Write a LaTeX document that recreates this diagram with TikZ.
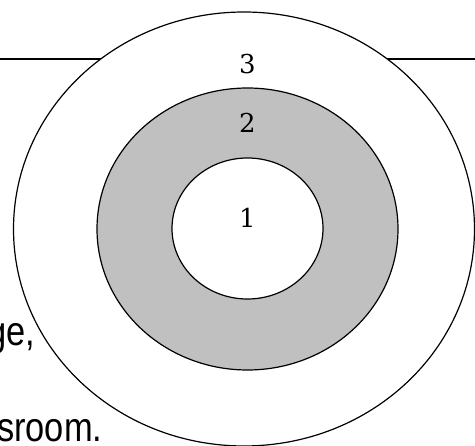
\documentclass[tikz,border=0pt]{standalone}
\usepackage{fontspec}
\setmainfont{DejaVu Serif}
\newfontfamily\bodysans[FakeStretch=0.84]{Liberation Sans}
\usepackage{xcolor}
\usepackage{tikz}
\usetikzlibrary{positioning}
\definecolor{ringgrey}{HTML}{C0C0C0}
\definecolor{ringline}{HTML}{000000}

\begin{document}
\begin{tikzpicture}[x=1pt,y=-1pt,line width=1.2pt]
  \useasboundingbox (0,0) rectangle (475,446);
  % rule behind the rings
  \coordinate (ruleL) at (0,59);
  \coordinate (ruleR) at (475,59);
  \draw[ringline,line width=1.5pt] (ruleL) -- (ruleR);
  % rings
  \filldraw[fill=white,draw=ringline] (244,229) ellipse [x radius=230.5,y radius=217];
  \filldraw[fill=ringgrey,draw=ringline] (247.5,229) ellipse [x radius=150.5,y radius=141];
  \filldraw[fill=white,draw=ringline] (247.5,228.5) ellipse [x radius=75.5,y radius=70.5];
  % ring numbers
  \node[font=\fontsize{26}{30}\selectfont] (num3) at (247.5,64) {3};
  \node[font=\fontsize{26}{30}\selectfont] (num2) at (247.5,123) {2};
  \node[font=\fontsize{26}{30}\selectfont] (num1) at (247.5,218) {1};
  % cut text on the left
  \node[anchor=base east,inner sep=0pt,font=\bodysans\fontsize{41}{46}\selectfont] (txtA) at (36,346) {ge,};
  \node[anchor=base east,inner sep=0pt,font=\bodysans\fontsize{41}{46}\selectfont] (txtB) at (103,442) {sroom.};
\end{tikzpicture}
\end{document}
